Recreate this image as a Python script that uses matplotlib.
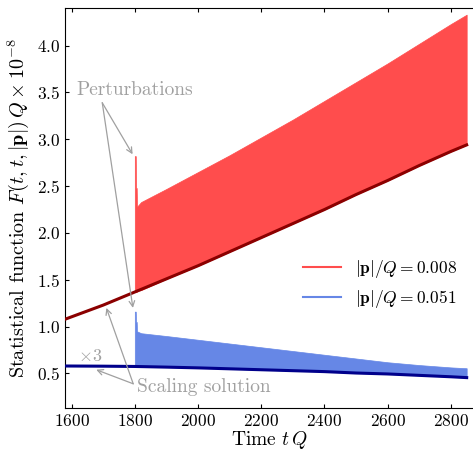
import numpy as np
import matplotlib
matplotlib.use("Agg")
import matplotlib.pyplot as plt

plt.rcParams["font.family"] = "serif"
plt.rcParams["font.serif"] = ["cmr10"]
plt.rcParams["mathtext.fontset"] = "cm"
plt.rcParams["axes.formatter.use_mathtext"] = True

# scaling solutions
t_scal = [1580, 1700, 1800, 1900, 2000, 2100, 2200, 2300, 2400, 2500, 2600, 2700, 2800, 2850]
red_scal = [1.08, 1.23, 1.37, 1.51, 1.65, 1.80, 1.95, 2.10, 2.25, 2.41, 2.56, 2.72, 2.87, 2.94]
blue_scal = [0.58, 0.578, 0.575, 0.568, 0.56, 0.55, 0.54, 0.53, 0.52, 0.505, 0.495, 0.48, 0.465, 0.456]

# perturbed runs (envelope of the fast oscillation)
t_pert = [1800, 1803, 1804, 1806, 1807, 1820, 1900, 2000, 2100, 2200, 2300, 2400, 2500, 2600, 2700, 2800, 2850]
red_up = [2.82, 2.82, 2.48, 2.48, 2.28, 2.33, 2.47, 2.65, 2.83, 3.02, 3.21, 3.41, 3.61, 3.81, 4.02, 4.23, 4.33]
red_lo = [1.37, 1.37, 1.37, 1.37, 1.38, 1.39, 1.51, 1.65, 1.80, 1.95, 2.10, 2.25, 2.41, 2.56, 2.72, 2.87, 2.94]
blue_up = [1.16, 1.16, 1.05, 1.05, 0.95, 0.93, 0.90, 0.86, 0.82, 0.78, 0.74, 0.70, 0.66, 0.62, 0.59, 0.565, 0.556]
blue_lo = [0.575, 0.575, 0.575, 0.575, 0.575, 0.574, 0.568, 0.56, 0.55, 0.54, 0.53, 0.52, 0.505, 0.495, 0.48, 0.465, 0.456]

labels = [r"$|\mathbf{p}|/Q = 0.008$", r"$|\mathbf{p}|/Q = 0.051$"]
c_red = "#ff4d4d"
c_blue = "#6687e6"

fig = plt.figure(figsize=(4.73, 4.51), dpi=100)
ax = fig.add_axes([0.138, 0.095, 0.862, 0.887])

ax.fill_between(t_pert, red_lo, red_up, color=c_red, lw=0.5, zorder=2)
ax.fill_between(t_pert, blue_lo, blue_up, color=c_blue, lw=0.5, zorder=2)
ax.plot(t_scal, red_scal, color="#8b0000", lw=2.2, zorder=3)
ax.plot(t_scal, blue_scal, color="#00008b", lw=2.2, zorder=3)

# legend handles
ax.plot([], [], color=c_red, lw=1.5, label=labels[0])
ax.plot([], [], color=c_blue, lw=1.5, label=labels[1])
ax.legend(loc="center right", bbox_to_anchor=(1.0, 0.31), frameon=False,
          fontsize=12.5, handlelength=2.2)

gray = "#a0a0a0"
arr = dict(arrowstyle="->", color=gray, lw=0.9, shrinkA=0, shrinkB=0)
ax.text(1800, 3.53, "Perturbations", ha="center", va="center", fontsize=14, color=gray)
ax.annotate("", xy=(1793, 2.84), xytext=(1697, 3.39), arrowprops=arr)
ax.annotate("", xy=(1794, 1.20), xytext=(1697, 3.39), arrowprops=arr)
ax.text(1807, 0.36, "Scaling solution", ha="left", va="center", fontsize=14, color=gray)
ax.annotate("", xy=(1710, 1.20), xytext=(1795, 0.39), arrowprops=arr)
ax.annotate("", xy=(1678, 0.54), xytext=(1795, 0.39), arrowprops=arr)
ax.text(1658, 0.69, r"$\times 3$", ha="center", va="center", fontsize=13, color=gray)

ax.set_xlim(1580, 2870)
ax.set_ylim(0.13, 4.40)
ax.set_xticks([1600, 1800, 2000, 2200, 2400, 2600, 2800])
ax.set_yticks([0.5, 1.0, 1.5, 2.0, 2.5, 3.0, 3.5, 4.0])
ax.tick_params(direction="in", top=True, labelsize=12.5, length=3)
ax.spines["right"].set_visible(False)
ax.set_xlabel(r"Time $t\,Q$", fontsize=14, labelpad=0)
ax.set_ylabel(r"Statistical function $F(t,t,|\mathbf{p}|)\,Q \times 10^{-8}$", fontsize=14.5, labelpad=4)

fig.savefig("out.png", dpi=100)
